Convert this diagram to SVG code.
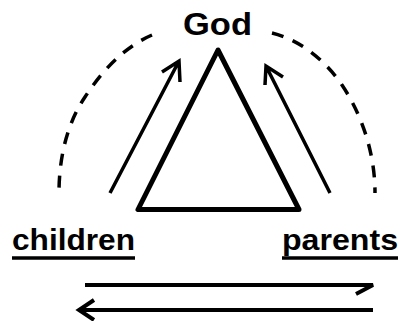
<svg xmlns="http://www.w3.org/2000/svg" width="401" height="321" viewBox="0 0 401 321">
<style>
.lbl{font-family:"Liberation Sans",Arial,sans-serif;font-weight:bold;fill:#000}
.ln{fill:none;stroke:#000;stroke-linecap:butt;stroke-linejoin:miter}
.dash{fill:none;stroke:#000;stroke-width:3.5;stroke-dasharray:12 10}
</style>
<rect width="401" height="321" fill="#fff"/>
<g id="god"><text class="lbl" x="183" y="35" font-size="32" textLength="69" lengthAdjust="spacingAndGlyphs">God</text></g>
<g id="triangle"><polygon points="218,50 138,209.5 299,209.5" fill="none" stroke="#000" stroke-width="5" stroke-linejoin="round"/></g>
<g id="children"><text class="lbl" x="12" y="250" font-size="29" textLength="123" lengthAdjust="spacingAndGlyphs">children</text><line x1="12" y1="258" x2="135" y2="258" stroke="#000" stroke-width="3.5"/></g>
<g id="parents"><text class="lbl" x="282" y="250" font-size="29" textLength="116" lengthAdjust="spacingAndGlyphs">parents</text><line x1="282" y1="258" x2="398" y2="258" stroke="#000" stroke-width="3.5"/></g>
<g id="connectors">
<path class="dash" d="M152,35 C122,48 100,74 85,97 C66,125 59,160 59,193"/>
<path class="dash" d="M272,33 C300,40 325,60 342,85 C360,112 375,150 375,193"/>
<path class="ln" stroke-width="3.5" d="M110,193 L179,61 M162,72 L179,61 L180,82"/>
<path class="ln" stroke-width="3.5" d="M330,193 L266,66 M283,77 L266,66 L265,85"/>
<path class="ln" stroke-width="4" d="M85,285 H373 L356,294"/>
<path class="ln" stroke-width="4" d="M373,310 H79 M94,300 L79,310 L94,320"/>
</g>
</svg>
